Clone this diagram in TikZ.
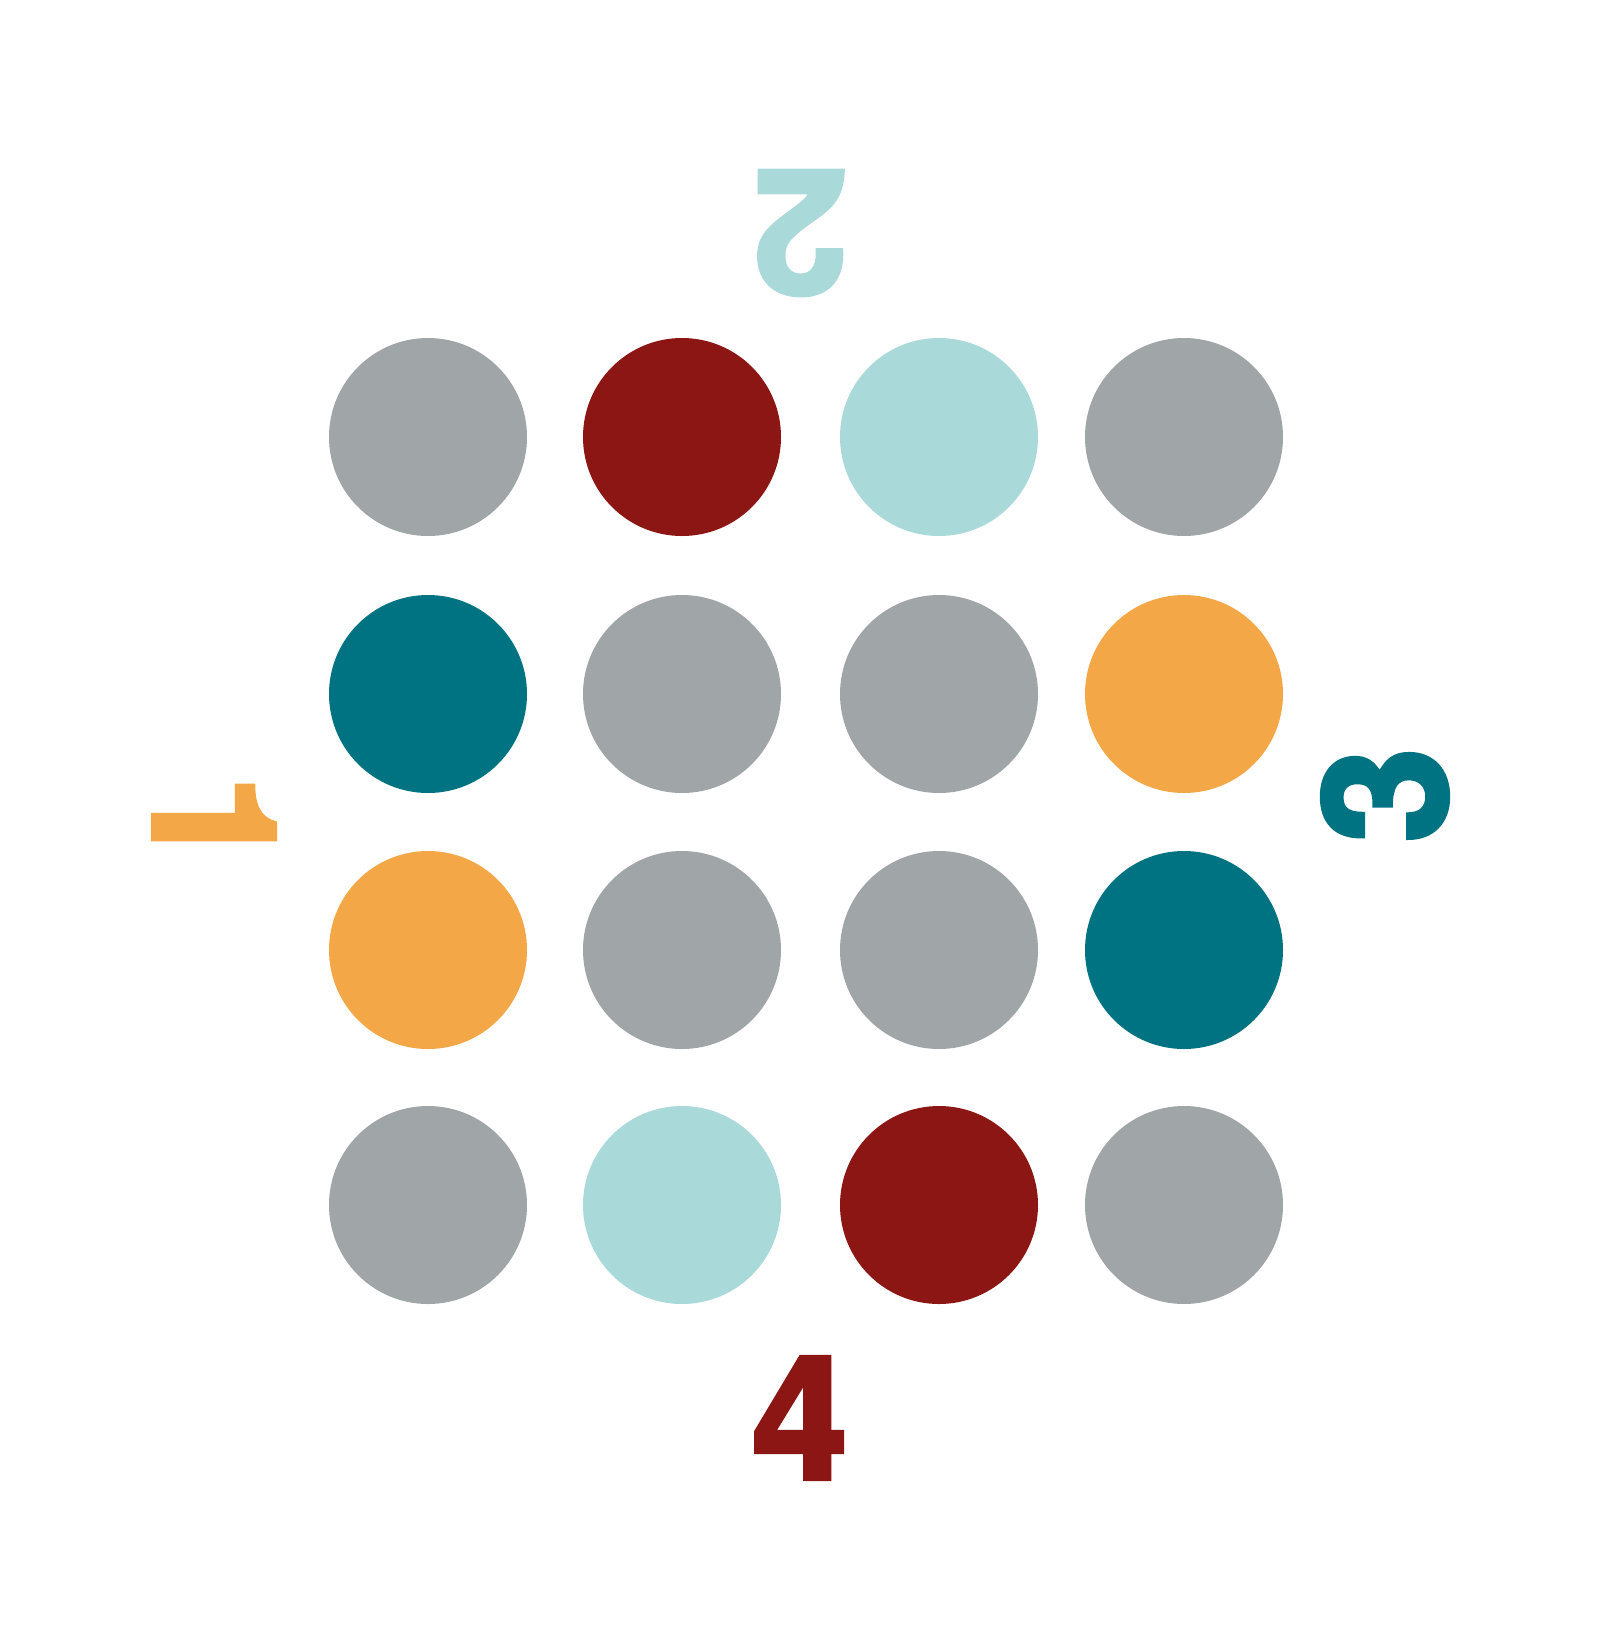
\documentclass[tikz,border=0pt]{standalone}
\usepackage{fontspec}
\setmainfont{TeX Gyre Heros}[BoldFeatures={FakeBold=2.5}]
\definecolor{dotgray}{HTML}{A0A5A8}
\definecolor{dotred}{HTML}{8B1614}
\definecolor{dotsky}{HTML}{AAD9DA}
\definecolor{dotteal}{HTML}{007382}
\definecolor{dotorange}{HTML}{F4A747}
\tikzset{
  dot/.style={circle,minimum size=99pt,inner sep=0pt},
  digit/.style={inner sep=0pt,font=\fontsize{86}{86}\selectfont\bfseries}
}
\begin{document}
\begin{tikzpicture}[x=0.5pt,y=-0.5pt]
  \useasboundingbox (0,0) rectangle (1600,1649);
  % first row
  \node[dot,fill=dotgray] (d11) at (428,437) {};
  \node[dot,fill=dotred] (d12) at (682,437) {};
  \node[dot,fill=dotsky] (d13) at (939,437) {};
  \node[dot,fill=dotgray] (d14) at (1184,437) {};
  % second row
  \node[dot,fill=dotteal] (d21) at (428,694) {};
  \node[dot,fill=dotgray] (d22) at (682,694) {};
  \node[dot,fill=dotgray] (d23) at (939,694) {};
  \node[dot,fill=dotorange] (d24) at (1184,694) {};
  % third row
  \node[dot,fill=dotorange] (d31) at (428,950) {};
  \node[dot,fill=dotgray] (d32) at (682,950) {};
  \node[dot,fill=dotgray] (d33) at (939,950) {};
  \node[dot,fill=dotteal] (d34) at (1184,950) {};
  % fourth row
  \node[dot,fill=dotgray] (d41) at (428,1205) {};
  \node[dot,fill=dotsky] (d42) at (682,1205) {};
  \node[dot,fill=dotred] (d43) at (939,1205) {};
  \node[dot,fill=dotgray] (d44) at (1184,1205) {};
  % side numbers
  \node[digit,text=dotorange,rotate=-90] (one) at (214,822) {1};
  \node[digit,text=dotsky,rotate=180] (two) at (800,233) {2};
  \node[digit,text=dotteal,rotate=90] (three) at (1385,795) {3};
  \node[digit,text=dotred] (four) at (800,1418) {4};
\end{tikzpicture}
\end{document}
